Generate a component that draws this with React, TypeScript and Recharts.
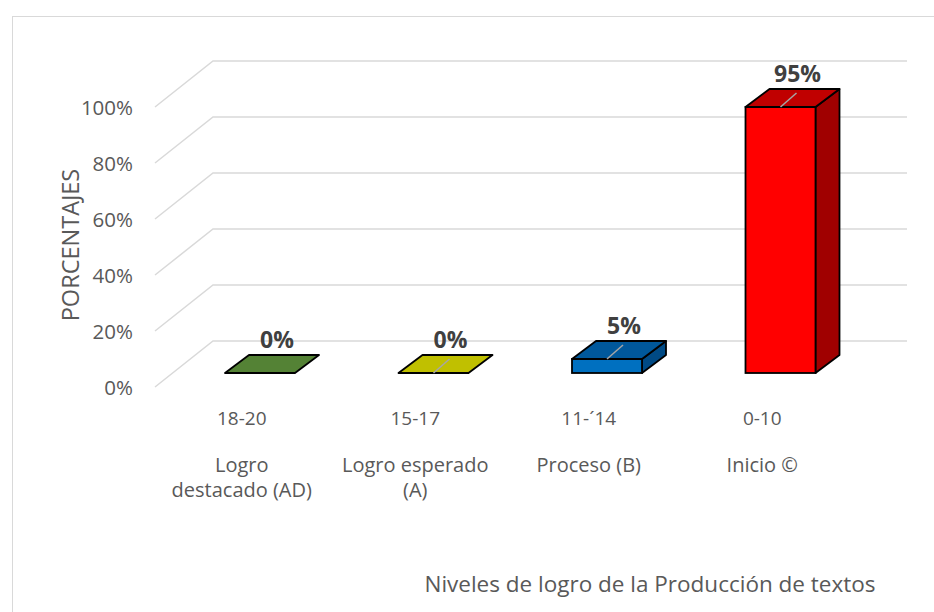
import React from 'react';
import { BarChart, Bar, XAxis, YAxis, CartesianGrid, LabelList } from 'recharts';

// ---- data ----
const rangos: string[] = ['18-20', '15-17', '11-´14', '0-10'];
const niveles: string[][] = [['Logro', 'destacado (AD)'], ['Logro esperado', '(A)'], ['Proceso (B)'], ['Inicio ©']];
const porcentajes: number[] = [0, 0, 0.05, 0.95];
const yTicks: number[] = [0, 0.2, 0.4, 0.6, 0.8, 1];
const tituloY = 'PORCENTAJES';
const tituloX = 'Niveles de logro de la Producción de textos';

const data = rangos.map((r, i) => ({ rango: r, idx: i, valor: porcentajes[i] }));

// ---- styles ----
const FONT = '"Open Sans", "Noto Sans", sans-serif';
const FRONT = ['#70ad47', '#e0e000', '#0070c0', '#ff0000'];
const TOP = ['#548235', '#c0c000', '#00589b', '#c00000'];
const SIDE = ['#3d6127', '#9a9a00', '#004a85', '#a00000'];
const LEADER = [false, true, true, true];
const DX = 24, DY = 18; // bar depth
const BACK_DX = 40, BACK_DY = 32; // back wall offset from bar plane
const FRONT_DX = -18, FRONT_DY = 14; // front edge offset from bar plane

const Bar3D = (props: any) => {
  const { x, y, width: w, height: h } = props;
  const i = props.payload?.idx ?? props.index ?? 0;
  const sw = 1.8;
  const hh = Math.max(0, h || 0);
  return (
    <g>
      {hh > 0 && (
        <polygon
          points={`${x + w},${y} ${x + w + DX},${y - DY} ${x + w + DX},${y + hh - DY} ${x + w},${y + hh}`}
          fill={SIDE[i]} stroke="#000" strokeWidth={sw} strokeLinejoin="round"
        />
      )}
      {hh > 0 && <rect x={x} y={y} width={w} height={hh} fill={FRONT[i]} stroke="#000" strokeWidth={sw} />}
      <polygon
        points={`${x},${y} ${x + DX},${y - DY} ${x + w + DX},${y - DY} ${x + w},${y}`}
        fill={TOP[i]} stroke="#000" strokeWidth={sw} strokeLinejoin="round"
      />
      {LEADER[i] && (
        <line x1={x + w / 2} y1={y} x2={x + w / 2 + 16} y2={y - 14} stroke="#a6a6a6" strokeWidth={1.5} />
      )}
    </g>
  );
};

const DataLabel = (props: any) => {
  const { x, y, width: w, value } = props;
  return (
    <text x={x + w / 2 + 17} y={y - 25} textAnchor="middle" fontFamily={FONT} fontSize={23} fontWeight={700} fill="#404040">
      {`${Math.round(value * 100)}%`}
    </text>
  );
};

const GridLine = (props: any) => {
  const { x1, x2, y1 } = props;
  return (
    <path
      d={`M${x1 + FRONT_DX},${y1 + FRONT_DY} L${x1 + BACK_DX},${y1 - BACK_DY} L${x2 + BACK_DX},${y1 - BACK_DY}`}
      fill="none" stroke="#d9d9d9" strokeWidth={1.5}
    />
  );
};

const YTick = (props: any) => {
  const { x, y, payload } = props;
  return (
    <text x={x - 40} y={y + FRONT_DY + 7.5} textAnchor="end" fontFamily={FONT} fontSize={20.5} fill="#595959">
      {`${Math.round(payload.value * 100)}%`}
    </text>
  );
};

const XTick = (props: any) => {
  const { x, y, payload, index } = props;
  const i = rangos.indexOf(payload.value);
  const lines = niveles[i >= 0 ? i : index] || [];
  const cx = x + FRONT_DX;
  return (
    <g>
      <text x={cx} y={y + 52} textAnchor="middle" fontFamily={FONT} fontSize={19} fill="#595959">
        {payload.value}
      </text>
      {lines.map((l, k) => (
        <text key={k} x={cx} y={y + 99 + k * 25} textAnchor="middle" fontFamily={FONT} fontSize={20} fill="#595959">
          {l}
        </text>
      ))}
    </g>
  );
};

export default function App() {
  return (
    <div style={{ position: 'absolute', left: 0, top: 0, width: 934, height: 612, overflow: 'hidden', background: '#fff' }}>
      <div style={{ position: 'absolute', left: 12, top: 16, width: 960, height: 640, borderLeft: '1.5px solid #d9d9d9', borderTop: '1.5px solid #d9d9d9' }} />
      <div style={{ position: 'absolute', left: 0, top: 0 }}>
        <BarChart width={934} height={612} data={data} margin={{ top: 93, right: 67, left: 113, bottom: 139 }}>
          <CartesianGrid vertical={false} horizontal={GridLine as any} />
          <XAxis
            dataKey="rango"
            axisLine={false}
            tickLine={false}
            tickSize={0}
            tickMargin={0}
            height={100}
            interval={0}
            tick={XTick}
            label={{
              content: () => (
                <text x={650} y={592} textAnchor="middle" fontFamily={FONT} fontSize={22.5} fill="#595959">
                  {tituloX}
                </text>
              ),
            }}
          />
          <YAxis
            domain={[0, 1]}
            ticks={yTicks}
            axisLine={false}
            tickLine={false}
            tickSize={0}
            tickMargin={0}
            width={60}
            tick={YTick}
            label={{
              content: () => (
                <text x={79} y={245} transform="rotate(-90 79 245)" textAnchor="middle" fontFamily={FONT} fontSize={23.5} fill="#595959">
                  {tituloY}
                </text>
              ),
            }}
          />
          <Bar dataKey="valor" barSize={70} shape={Bar3D} isAnimationActive={false}>
            <LabelList dataKey="valor" content={DataLabel} />
          </Bar>
        </BarChart>
      </div>
    </div>
  );
}
